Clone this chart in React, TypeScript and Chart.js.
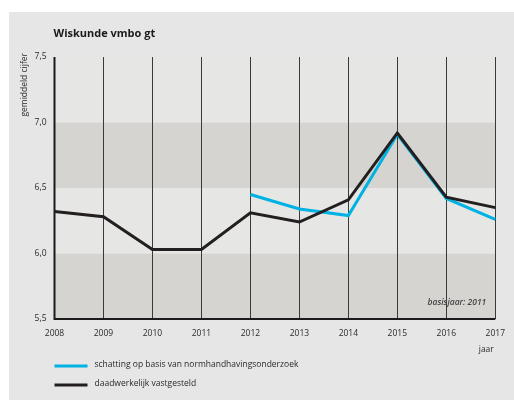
import React, { useEffect, useRef } from "react";
import { Chart, registerables } from "chart.js";

Chart.register(...registerables);

const years = ["2008", "2009", "2010", "2011", "2012", "2013", "2014", "2015", "2016", "2017"];
const vastgesteld = [6.32, 6.28, 6.03, 6.03, 6.31, 6.24, 6.41, 6.92, 6.43, 6.35];
const schatting = [null, null, null, null, 6.45, 6.34, 6.29, 6.91, 6.42, 6.26];
const bands = [
  { from: 5.5, to: 6.0, color: "#d5d4d0" },
  { from: 6.0, to: 6.5, color: "#e6e6e5" },
  { from: 6.5, to: 7.0, color: "#d5d4d0" },
  { from: 7.0, to: 7.5, color: "#e6e6e5" },
];
const title = "Wiskunde vmbo gt";
const yTitle = "gemiddeld cijfer";
const xTitle = "jaar";
const note = "basisjaar: 2011";
const legendItems = [
  { label: "schatting op basis van normhandhavingsonderzoek", color: "#00b2e3" },
  { label: "daadwerkelijk vastgesteld", color: "#231f20" },
];

const FONT = "'Open Sans', 'Noto Sans', sans-serif";
const FS = 8.5;

const decorPlugin = {
  id: "decor",
  beforeDraw(chart: any) {
    const ctx = chart.ctx;
    ctx.save();
    ctx.fillStyle = "#ffffff";
    ctx.fillRect(0, 0, chart.width, chart.height);
    ctx.fillStyle = "#e6e6e6";
    ctx.fillRect(9, 12, chart.width - 9, chart.height - 12);
    ctx.restore();
  },
  beforeDatasetsDraw(chart: any) {
    const ctx = chart.ctx;
    const { left, right } = chart.chartArea;
    const y = chart.scales.y;
    ctx.save();
    bands.forEach((b) => {
      const y1 = y.getPixelForValue(b.to);
      const y2 = y.getPixelForValue(b.from);
      ctx.fillStyle = b.color;
      ctx.fillRect(left, y1, right - left, y2 - y1);
    });
    const x = chart.scales.x;
    ctx.strokeStyle = "#3a3a3a";
    ctx.lineWidth = 1;
    years.forEach((_, i) => {
      if (i === 0) return;
      const px = Math.round(x.getPixelForValue(i)) + 0.5;
      ctx.beginPath();
      ctx.moveTo(px, chart.chartArea.top);
      ctx.lineTo(px, chart.chartArea.bottom);
      ctx.stroke();
    });
    ctx.strokeStyle = "#1a1a1a";
    ctx.lineWidth = 2;
    ctx.beginPath();
    ctx.moveTo(left, chart.chartArea.top);
    ctx.lineTo(left, chart.chartArea.bottom);
    ctx.lineTo(right, chart.chartArea.bottom);
    ctx.stroke();
    ctx.restore();
  },
  afterDraw(chart: any) {
    const ctx = chart.ctx;
    const { left, right, bottom, top } = chart.chartArea;
    ctx.save();
    ctx.fillStyle = "#1a1a1a";
    ctx.font = `bold 11px ${FONT}`;
    ctx.textBaseline = "middle";
    ctx.textAlign = "left";
    ctx.fillText(title, left - 1, 34);

    ctx.fillStyle = "#2a2a2a";
    ctx.font = `${FS}px ${FONT}`;
    ctx.save();
    ctx.translate(25, top - 4);
    ctx.rotate(-Math.PI / 2);
    ctx.textAlign = "right";
    ctx.fillText(yTitle, 0, 0);
    ctx.restore();

    ctx.textAlign = "center";
    ctx.fillText(xTitle, right - 9, 350);

    ctx.font = `italic 600 ${FS}px ${FONT}`;
    ctx.textAlign = "right";
    ctx.fillStyle = "#444";
    ctx.fillText(note, right - 9, bottom - 16);

    ctx.font = `${FS}px ${FONT}`;
    ctx.textAlign = "left";
    legendItems.forEach((it, i) => {
      const yy = 366 + i * 19;
      ctx.strokeStyle = it.color;
      ctx.lineWidth = 3;
      ctx.beginPath();
      ctx.moveTo(left, yy);
      ctx.lineTo(left + 33, yy);
      ctx.stroke();
      ctx.fillStyle = "#2a2a2a";
      ctx.fillText(it.label, left + 40, yy - 1);
    });
    ctx.restore();
  },
};

export default function App() {
  const ref = useRef<HTMLCanvasElement>(null);
  useEffect(() => {
    if (!ref.current) return;
    const chart = new Chart(ref.current, {
      type: "line",
      data: {
        labels: years,
        datasets: [
          {
            label: legendItems[1].label,
            data: vastgesteld,
            borderColor: legendItems[1].color,
            borderWidth: 3,
            pointRadius: 0,
            tension: 0,
            order: 0,
          },
          {
            label: legendItems[0].label,
            data: schatting as any,
            borderColor: legendItems[0].color,
            borderWidth: 3,
            pointRadius: 0,
            tension: 0,
            order: 1,
          },
        ],
      },
      options: {
        animation: false,
        responsive: false,
        devicePixelRatio: 1,
        layout: { padding: { left: 0, right: 15, top: 57, bottom: 0 } },
        plugins: { legend: { display: false }, tooltip: { enabled: false } },
        scales: {
          x: {
            type: "category",
            offset: false,
            grid: { display: false, drawTicks: false },
            border: { display: false },
            ticks: {
              color: "#2a2a2a",
              font: { family: FONT, size: FS },
              padding: 9,
              maxRotation: 0,
              autoSkip: false,
            },
            afterFit: (s: any) => {
              s.height = 81;
            },
          },
          y: {
            min: 5.5,
            max: 7.5,
            grid: { display: false, drawTicks: false },
            border: { display: false },
            ticks: {
              stepSize: 0.5,
              color: "#2a2a2a",
              font: { family: FONT, size: FS },
              padding: 8,
              callback: (v: any) => Number(v).toFixed(1).replace(".", ","),
            },
            afterFit: (s: any) => {
              s.width = 54.5;
            },
          },
        },
      },
      plugins: [decorPlugin],
    });
    return () => chart.destroy();
  }, []);
  return (
    <div style={{ position: "fixed", left: 0, top: 0, width: 514, height: 400 }}>
      <canvas ref={ref} width={514} height={400} style={{ display: "block" }} />
    </div>
  );
}
